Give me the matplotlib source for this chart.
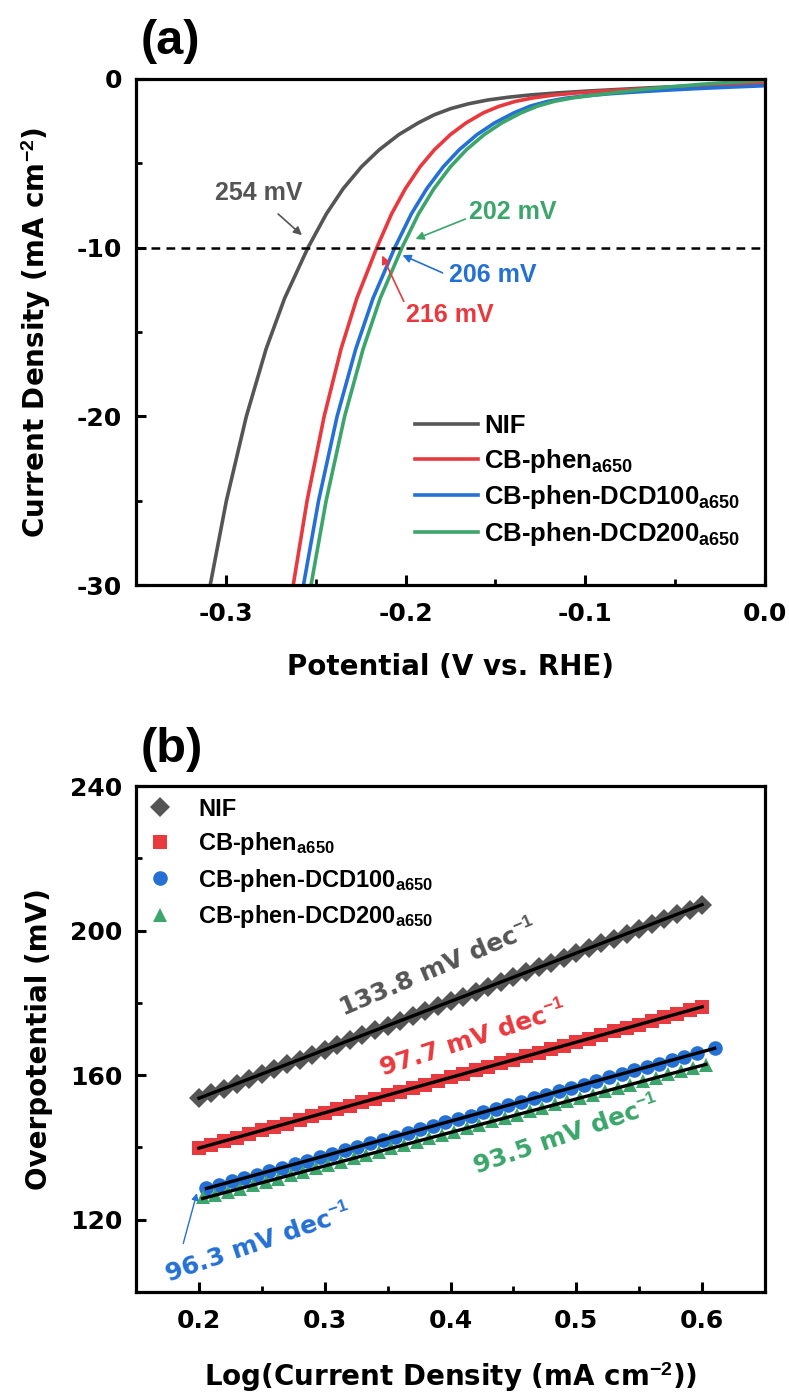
import numpy as np
import matplotlib
matplotlib.use("Agg")
import matplotlib.pyplot as plt

plt.rcParams['font.family'] = ['DejaVu Sans']
plt.rcParams['font.weight'] = 'bold'
plt.rcParams['mathtext.fontset'] = 'custom'
plt.rcParams['mathtext.rm'] = 'Liberation Sans:bold'
plt.rcParams['mathtext.bf'] = 'Liberation Sans:bold'
plt.rcParams['mathtext.it'] = 'Liberation Sans:bold'
plt.rcParams['mathtext.default'] = 'bf'
plt.rcParams['axes.unicode_minus'] = False

ARIAL = ['Liberation Sans', 'DejaVu Sans']

# ---- panel (a): LSV curves (potential V vs RHE, current density mA cm-2)
nif_v = [-0.3087, -0.2997, -0.2886, -0.2776, -0.2673, -0.2543, -0.2441, -0.2347, -0.2245,
         -0.2147, -0.2038, -0.1929, -0.1840, -0.1750, -0.1650, -0.1540, -0.1420, -0.1300,
         -0.1150, -0.0980, -0.0800, -0.0600, -0.0400, -0.0200, 0.0]
nif_j = [-30.0, -25.0, -20.0, -16.0, -13.0, -10.0, -8.0, -6.5, -5.2,
         -4.2, -3.3, -2.6, -2.12, -1.76, -1.47, -1.24, -1.07, -0.94,
         -0.82, -0.71, -0.61, -0.50, -0.41, -0.33, -0.26]

red_v = [-0.2625, -0.2548, -0.2453, -0.2359, -0.2271, -0.2160, -0.2078, -0.2001, -0.1919,
         -0.1840, -0.1751, -0.1663, -0.1566, -0.1480, -0.1390, -0.1290, -0.1180, -0.1050,
         -0.0900, -0.0720, -0.0520, -0.0340, -0.0170, 0.0]
red_j = [-30.0, -25.0, -20.0, -16.0, -13.0, -10.0, -8.0, -6.5, -5.2,
         -4.2, -3.3, -2.6, -2.0, -1.62, -1.33, -1.12, -0.96, -0.83,
         -0.72, -0.61, -0.50, -0.41, -0.33, -0.26]

blue_v = [-0.2568, -0.2484, -0.2381, -0.2277, -0.2181, -0.2060, -0.1968, -0.1882, -0.1790,
          -0.1702, -0.1603, -0.1504, -0.1396, -0.1304, -0.1210, -0.1110, -0.1000, -0.0870,
          -0.0720, -0.0560, -0.0380, -0.0190, 0.0]
blue_j = [-30.0, -25.0, -20.0, -16.0, -13.0, -10.0, -8.0, -6.5, -5.2,
          -4.2, -3.3, -2.6, -2.0, -1.6, -1.33, -1.14, -1.00, -0.88,
          -0.77, -0.67, -0.57, -0.48, -0.40]

green_v = [-0.2526, -0.2442, -0.2339, -0.2236, -0.2141, -0.2020, -0.1928, -0.1842, -0.1750,
           -0.1662, -0.1563, -0.1464, -0.1356, -0.1264, -0.1170, -0.1070, -0.0960, -0.0830,
           -0.0680, -0.0520, -0.0350, -0.0170, 0.0]
green_j = [-30.0, -25.0, -20.0, -16.0, -13.0, -10.0, -8.0, -6.5, -5.2,
           -4.2, -3.3, -2.6, -2.0, -1.6, -1.32, -1.12, -0.97, -0.80,
           -0.62, -0.46, -0.31, -0.18, -0.08]

# ---- panel (b): Tafel data (log j, overpotential mV)
tafel_x = [0.20, 0.21, 0.22, 0.23, 0.24, 0.25, 0.26, 0.27, 0.28, 0.29,
           0.30, 0.31, 0.32, 0.33, 0.34, 0.35, 0.36, 0.37, 0.38, 0.39,
           0.40, 0.41, 0.42, 0.43, 0.44, 0.45, 0.46, 0.47, 0.48, 0.49,
           0.50, 0.51, 0.52, 0.53, 0.54, 0.55, 0.56, 0.57, 0.58, 0.59, 0.60]
nif_eta = [153.6, 155.0, 156.3, 157.6, 159.0, 160.3, 161.6, 163.0, 164.3, 165.6,
           167.0, 168.4, 169.7, 171.0, 172.4, 173.7, 175.1, 176.4, 177.7, 179.1,
           180.4, 181.7, 183.1, 184.4, 185.8, 187.1, 188.4, 189.8, 191.1, 192.4,
           193.8, 195.1, 196.5, 197.8, 199.1, 200.5, 201.8, 203.1, 204.5, 205.8, 207.2]
red_eta = [139.8, 140.8, 141.8, 142.7, 143.7, 144.7, 145.7, 146.6, 147.6, 148.6,
           149.6, 150.6, 151.5, 152.5, 153.5, 154.5, 155.4, 156.4, 157.4, 158.4,
           159.4, 160.3, 161.3, 162.3, 163.3, 164.2, 165.2, 166.2, 167.2, 168.1,
           169.1, 170.1, 171.1, 172.1, 173.0, 174.0, 175.0, 176.0, 176.9, 177.9, 178.9]
blue_x = [0.206, 0.216, 0.226, 0.236, 0.246, 0.256, 0.266, 0.276, 0.286, 0.296,
          0.306, 0.316, 0.326, 0.336, 0.346, 0.356, 0.366, 0.376, 0.386, 0.396,
          0.406, 0.416, 0.426, 0.436, 0.446, 0.456, 0.466, 0.476, 0.486, 0.496,
          0.506, 0.516, 0.526, 0.536, 0.546, 0.556, 0.566, 0.576, 0.586, 0.596, 0.610]
blue_eta = [128.9, 129.6, 130.6, 131.5, 132.5, 133.4, 134.4, 135.3, 136.3, 137.3,
            138.2, 139.2, 140.1, 141.1, 142.1, 143.0, 144.0, 145.0, 145.9, 146.9,
            147.8, 148.8, 149.8, 150.7, 151.7, 152.6, 153.6, 154.6, 155.5, 156.5,
            157.4, 158.4, 159.4, 160.3, 161.3, 162.2, 163.2, 164.2, 165.1, 166.1, 167.5]
green_x = [0.203, 0.213, 0.223, 0.233, 0.243, 0.253, 0.263, 0.273, 0.283, 0.293,
           0.303, 0.313, 0.323, 0.333, 0.343, 0.353, 0.363, 0.373, 0.383, 0.393,
           0.403, 0.413, 0.423, 0.433, 0.443, 0.453, 0.463, 0.473, 0.483, 0.493,
           0.503, 0.513, 0.523, 0.533, 0.543, 0.553, 0.563, 0.573, 0.583, 0.593, 0.603]
green_eta = [126.2, 126.8, 127.7, 128.6, 129.5, 130.5, 131.4, 132.3, 133.3, 134.2,
             135.1, 136.1, 137.0, 137.9, 138.8, 139.8, 140.7, 141.6, 142.6, 143.5,
             144.4, 145.3, 146.3, 147.2, 148.1, 149.1, 150.0, 150.9, 151.9, 152.8,
             153.7, 154.6, 155.6, 156.5, 157.4, 158.4, 159.3, 160.2, 161.1, 162.1, 162.8]

labels = ['NIF', r'CB-phen$_{a650}$', r'CB-phen-DCD100$_{a650}$', r'CB-phen-DCD200$_{a650}$']
colors = ['#555555', '#e8393e', '#2470d4', '#3ba56b']
slopes = ['133.8', '97.7', '96.3', '93.5']


def style_axis(ax):
    for s in ax.spines.values():
        s.set_linewidth(2.3)
    ax.tick_params(which='major', direction='in', length=7, width=2.2, labelsize=18)
    ax.tick_params(which='minor', direction='in', length=4, width=2.0)
    ax.tick_params(axis='x', which='major', pad=12)
    ax.tick_params(axis='y', which='major', pad=10)


fig = plt.figure(figsize=(7.89, 13.99), dpi=100)

# ---------------- (a)
ax1 = fig.add_axes([136/789, (1399-585)/1399, 629/789, 506/1399])
curves = [(nif_v, nif_j), (red_v, red_j), (blue_v, blue_j), (green_v, green_j)]
for (v, j), c, lab in zip(curves, colors, labels):
    ax1.plot(v, j, color=c, lw=2.6, label=lab, solid_joinstyle='round')
ax1.axhline(-10, color='black', lw=1.8, ls=(0, (3.5, 2.5)))
ax1.set_xlim(-0.35, 0.0)
ax1.set_ylim(-30, 0)
ax1.set_xticks([-0.3, -0.2, -0.1, 0.0])
ax1.set_xticks([-0.25, -0.15, -0.05], minor=True)
ax1.set_yticks([-30, -20, -10, 0])
ax1.set_yticks([-25, -15, -5], minor=True)
ax1.set_xticklabels(['-0.3', '-0.2', '-0.1', '0.0'])
ax1.set_yticklabels(['-30', '-20', '-10', '0'])
style_axis(ax1)
ax1.set_xlabel('Potential (V vs. RHE)', fontsize=20, fontweight='bold', labelpad=20)
ax1.set_ylabel(r'Current Density (mA cm$^{-2}$)', fontsize=20, fontweight='bold', labelpad=17)

ann = [('254 mV', (-0.2816, -6.76), (-0.2721, -7.89), (-0.2565, -9.37), colors[0]),
       ('202 mV', (-0.1402, -7.89), (-0.1653, -8.24), (-0.1959, -9.55), colors[3]),
       ('206 mV', (-0.1514, -11.62), (-0.1780, -11.56), (-0.2031, -10.38), colors[2]),
       ('216 mV', (-0.1753, -14.0), (-0.2003, -13.34), (-0.2137, -10.32), colors[1])]
for txt, tpos, tail, head, c in ann:
    ax1.text(tpos[0], tpos[1], txt, color=c, fontsize=18, fontweight='bold', family=ARIAL,
             ha='center', va='center')
    ax1.annotate('', xy=head, xytext=tail,
                 arrowprops=dict(arrowstyle='-|>', color=c, lw=1.2, mutation_scale=12))

ax1.legend(loc='upper left', bbox_to_anchor=((415-136)/629, (585-414)/506), frameon=False,
           prop=dict(family=ARIAL, weight='bold', size=18.5), handlelength=2.45,
           handletextpad=0.25, labelspacing=0.34, borderaxespad=0, borderpad=0)

# ---------------- (b)
ax2 = fig.add_axes([136/789, (1399-1292)/1399, 629/789, 506/1399])
series = [(tafel_x, nif_eta, 'D'), (tafel_x, red_eta, 's'), (blue_x, blue_eta, 'o'), (green_x, green_eta, '^')]
for (x, y, m), c, lab in zip(series, colors, labels):
    ax2.plot(x, y, ls='none', marker=m, color=c, markersize=10.5, markeredgewidth=0, label=lab)
for (x, y, m) in series:
    k, b = np.polyfit(x, y, 1)
    xs = np.array([x[0], x[-1]])
    ax2.plot(xs, k * xs + b, color='black', lw=2.4)

ax2.set_xlim(0.15, 0.65)
ax2.set_ylim(100, 240)
ax2.set_xticks([0.2, 0.3, 0.4, 0.5, 0.6])
ax2.set_xticks([0.25, 0.35, 0.45, 0.55], minor=True)
ax2.set_yticks([120, 160, 200, 240])
ax2.set_yticks([140, 180, 220], minor=True)
style_axis(ax2)
ax2.set_xlabel(r'Log(Current Density (mA cm$^{-2}$))', fontsize=20, fontweight='bold', labelpad=20)
ax2.set_ylabel('Overpotential (mV)', fontsize=20, fontweight='bold', labelpad=12)

slope_txt = [(0.39, 189.6, 23, colors[0]), (0.418, 169.9, 18, colors[1]),
             (0.247, 113.3, 19, colors[2]), (0.492, 143.4, 19, colors[3])]
for (tx, ty, rot, c), s in zip(slope_txt, slopes):
    ax2.text(tx, ty, s + r' mV dec$^{-1}$', color=c, fontsize=18, fontweight='bold',
             rotation=rot, ha='center', va='center', rotation_mode='anchor')
ax2.annotate('', xy=(0.199, 128.1), xytext=(0.187, 112.7),
             arrowprops=dict(arrowstyle='-|>', color=colors[2], lw=1.0, mutation_scale=10))

ax2.legend(loc='upper left', bbox_to_anchor=(0.02, 0.977), frameon=False,
           prop=dict(family=ARIAL, weight='bold', size=17),
           handlelength=1.0, handletextpad=1.1, labelspacing=0.4, borderaxespad=0, borderpad=0)

fig.text(141/789, 1 - 42/1399, '(a)', fontsize=35, fontweight='bold', family=ARIAL, ha='left', va='center')
fig.text(141/789, 1 - 750/1399, '(b)', fontsize=35, fontweight='bold', family=ARIAL, ha='left', va='center')

fig.savefig('out.png', dpi=100)
